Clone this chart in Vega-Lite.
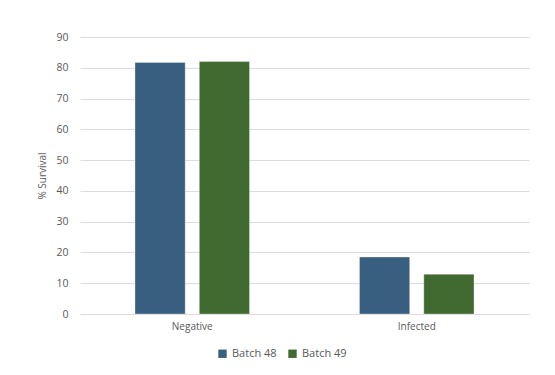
{
  "$schema": "https://vega.github.io/schema/vega-lite/v6.json",
  "autosize": "none",
  "width": 449,
  "height": 277,
  "padding": {"left": 80, "top": 37, "right": 26, "bottom": 61},
  "background": "white",
  "data": {
    "values": [
      {"group": "Negative", "batch": "Batch 48", "survival": 81.7},
      {"group": "Negative", "batch": "Batch 49", "survival": 82.0},
      {"group": "Infected", "batch": "Batch 48", "survival": 18.5},
      {"group": "Infected", "batch": "Batch 49", "survival": 12.9}
    ]
  },
  "mark": {"type": "bar", "stroke": "white", "strokeWidth": 0.5, "strokeOpacity": 0.6},
  "encoding": {
    "x": {
      "field": "group", "type": "nominal", "sort": ["Negative", "Infected"],
      "scale": {"paddingInner": 0.49, "paddingOuter": 0.245},
      "axis": {"title": null, "labelAngle": 0, "ticks": false, "domain": false, "labelPadding": 7,
               "labelFont": "Open Sans", "labelFontSize": 10, "labelColor": "#595959"}
    },
    "xOffset": {
      "field": "batch", "type": "nominal",
      "scale": {"paddingInner": 0.22, "paddingOuter": 0}
    },
    "y": {
      "field": "survival", "type": "quantitative",
      "scale": {"domain": [0, 90]},
      "axis": {"title": "% Survival", "values": [0,10,20,30,40,50,60,70,80,90], "domain": false, "ticks": false,
               "labelPadding": 12, "gridColor": "#dcdcdc", "gridWidth": 1,
               "labelFont": "Open Sans", "labelFontSize": 10.5, "labelColor": "#595959",
               "titleFont": "Open Sans", "titleFontSize": 10, "titleFontWeight": "normal", "titleColor": "#595959", "titlePadding": 8}
    },
    "color": {
      "field": "batch", "type": "nominal",
      "scale": {"domain": ["Batch 48", "Batch 49"], "range": ["#395F80", "#416A30"]},
      "legend": {"title": null, "orient": "none", "direction": "horizontal", "legendX": 137, "legendY": 311,
                 "symbolType": "square", "symbolSize": 70, "labelFont": "Open Sans", "labelFontSize": 11,
                 "labelColor": "#595959", "columnPadding": 10, "symbolStrokeWidth": 0}
    }
  },
  "config": {"view": {"stroke": null}}
}
